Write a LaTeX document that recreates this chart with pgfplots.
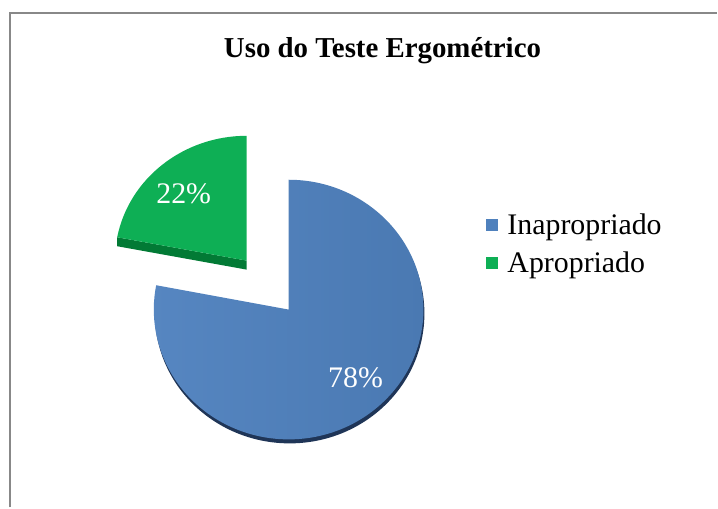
\documentclass[border=0pt]{standalone}
\usepackage{pgfplots}
\usepackage{pgfplotstable}
\pgfplotsset{compat=1.18}
\usepackage{fontspec}
\setmainfont{Liberation Serif}

\definecolor{pieblue}{HTML}{4F81BD}
\definecolor{pieblueL}{HTML}{5686C1}
\definecolor{pieblueD}{HTML}{4A79B2}
\definecolor{piegreen}{HTML}{0EAF55}
\definecolor{piegreenD}{HTML}{027A35}
\definecolor{pieshadow}{HTML}{1F3557}
\definecolor{framegray}{HTML}{888888}

\pgfplotstableread{
label value
Inapropriado 78
Apropriado 22
}\piedata
\pgfplotstablegetelem{0}{value}\of\piedata
\let\valA\pgfplotsretval
\pgfplotstablegetelem{1}{value}\of\piedata
\let\valB\pgfplotsretval
% blue slice runs clockwise from 12 o'clock
\pgfmathsetmacro\angA{90-3.6*\valA}
% green slice: from end of blue back to 12 o'clock
\pgfmathsetmacro\angB{90+3.6*\valB}

\begin{document}
\begin{tikzpicture}
\begin{axis}[
  scale only axis,
  width=718bp, height=508bp,
  xmin=0, xmax=718, ymin=0, ymax=508,
  hide axis,
  clip=false,
  legend style={at={(axis cs:486,296)}, anchor=north west, draw=none, fill=none,
    font=\fontsize{30}{33}\selectfont, row sep=12bp, column sep=8bp, inner sep=0pt,
    cells={anchor=west}},
  legend image code/.code={\fill[#1] (0bp,-6bp) rectangle (12bp,6bp);},
]
% page extent
\path (axis cs:0,0) rectangle (axis cs:718,508);
% frame
\draw[framegray, line width=2bp] (axis cs:10,0) -- (axis cs:10,495) -- (axis cs:718,495);

% title
\node[font=\bfseries\fontsize{29}{32}\selectfont] at (axis cs:383,457) {Uso do Teste Ergométrico};

% blue slice shadow
\fill[pieshadow] (axis cs:290,194) -- ++(0bp,130bp)
  arc[start angle=90, end angle=\angA, x radius=135bp, y radius=130bp] -- cycle;
% blue slice (Inapropriado)
\path[left color=pieblueL, right color=pieblueD] (axis cs:289,198) -- ++(0bp,130bp)
  arc[start angle=90, end angle=\angA, x radius=135bp, y radius=130bp] -- cycle;

% green slice side (exploded)
\fill[piegreenD] (axis cs:247,247) -- ++(\angB:132bp and 125bp) -- ++(0bp,-9bp)
  -- (axis cs:247,238) -- cycle;
% green slice (Apropriado)
\fill[piegreen] (axis cs:247,247) -- ++(0bp,125bp)
  arc[start angle=90, end angle=\angB, x radius=132bp, y radius=125bp] -- cycle;

% labels
\node[white, font=\fontsize{30}{33}\selectfont] at (axis cs:184,314) {22\%};
\node[white, font=\fontsize{30}{33}\selectfont] at (axis cs:356,130) {78\%};

\addlegendimage{fill=pieblue, draw=none}
\addlegendentry{Inapropriado}
\addlegendimage{fill=piegreen, draw=none}
\addlegendentry{Apropriado}
\end{axis}
\end{tikzpicture}
\end{document}
